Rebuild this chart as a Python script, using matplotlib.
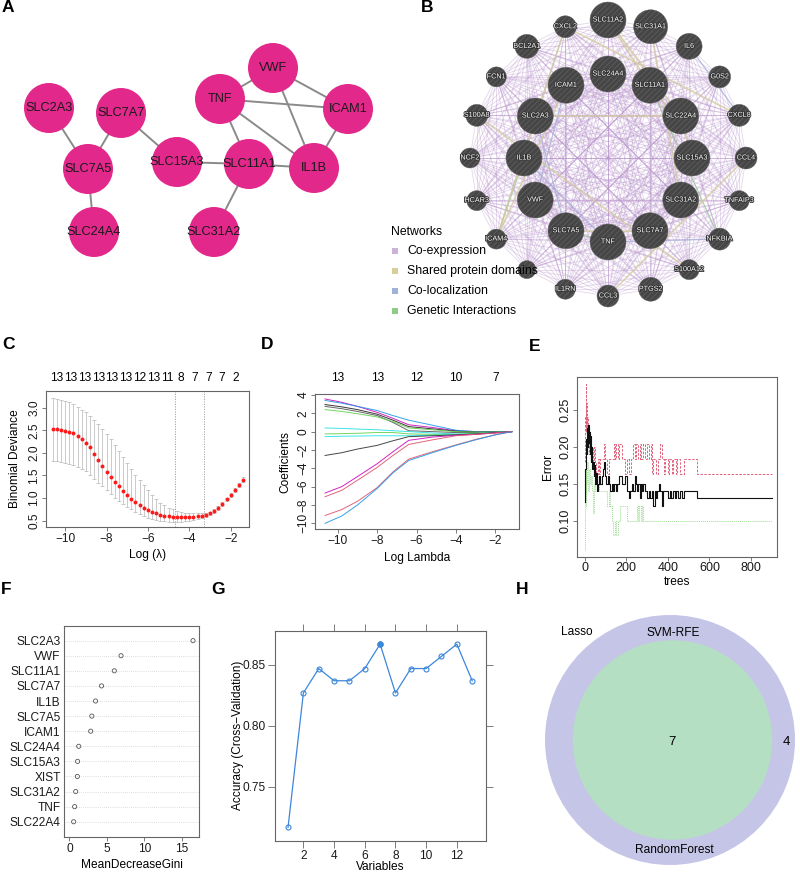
import itertools
import matplotlib
matplotlib.use('Agg')
import matplotlib.pyplot as plt
import matplotlib.patheffects as pe
from matplotlib.collections import LineCollection
from matplotlib.patches import Circle, Rectangle
import numpy as np

plt.rcParams['font.family'] = ['Liberation Sans', 'DejaVu Sans']
plt.rcParams['hatch.linewidth'] = 0.4

# ---------------- data ----------------
# A: PPI network (layout units = pixels)
a_genes = ['VWF', 'TNF', 'ICAM1', 'SLC2A3', 'SLC7A7', 'SLC7A5', 'SLC15A3',
           'SLC11A1', 'IL1B', 'SLC24A4', 'SLC31A2']
a_x = [273, 220, 348, 49, 121, 88, 177, 249, 314, 94, 214]
a_y = [68, 99, 109, 108, 113, 169, 162, 164, 168, 232, 232]
a_edges = [('SLC2A3', 'SLC7A5'), ('SLC7A7', 'SLC7A5'), ('SLC7A5', 'SLC24A4'),
           ('SLC7A7', 'SLC15A3'), ('SLC15A3', 'SLC11A1'), ('SLC11A1', 'IL1B'),
           ('SLC11A1', 'SLC31A2'), ('SLC11A1', 'TNF'), ('TNF', 'VWF'),
           ('TNF', 'ICAM1'), ('TNF', 'IL1B'), ('VWF', 'ICAM1'), ('VWF', 'IL1B'),
           ('ICAM1', 'IL1B')]

# B: GeneMANIA network (two rings)
b_outer = ['SLC11A2', 'SLC31A1', 'IL6', 'G0S2', 'CXCL8', 'CCL4', 'TNFAIP3',
           'NFKBIA', 'S100A12', 'PTGS2', 'CCL3', 'IL1RN', '', 'ICAM4', 'HCAR3',
           'NCF2', 'S100A8', 'FCN1', 'BCL2A1', 'CXCL2']
b_outer_size = [18, 17, 13, 11, 11, 11, 10, 11, 10, 12, 11, 10, 9, 10, 10,
                10, 11, 10, 12, 11]
b_inner = ['SLC24A4', 'SLC11A1', 'SLC22A4', 'SLC15A3', 'SLC31A2', 'SLC7A7',
           'TNF', 'SLC7A5', 'VWF', 'IL1B', 'SLC2A3', 'ICAM1']
b_inner_size = 18
b_shared = [('SLC11A2', 'SLC11A1'), ('SLC11A2', 'SLC22A4'), ('SLC31A1', 'SLC31A2'),
            ('SLC7A5', 'SLC7A7'), ('SLC2A3', 'SLC22A4'), ('CXCL2', 'CXCL8'),
            ('CCL3', 'CCL4'), ('ICAM1', 'ICAM4'), ('S100A8', 'S100A12'),
            ('SLC15A3', 'SLC22A4'), ('CXCL2', 'ICAM4')]
b_coloc = [('ICAM1', 'VWF'), ('IL1B', 'TNF'), ('SLC2A3', 'SLC7A5'),
           ('IL6', 'CXCL8'), ('TNF', 'NFKBIA')]
b_genetic = [('SLC7A5', 'TNF'), ('IL1B', 'ICAM4'), ('SLC11A1', 'NFKBIA')]
net_types = ['Co-expression', 'Shared protein domains', 'Co-localization',
             'Genetic Interactions']
net_colors = ['#cdb2d9', '#d6cf9a', '#9fb2da', '#8fcc88']

# C: cv.glmnet deviance
c_loglam = [-10.6, -10.4, -10.2, -10.0, -9.8, -9.6, -9.4, -9.2, -9.0, -8.8,
            -8.6, -8.4, -8.2, -8.0, -7.8, -7.6, -7.4, -7.2, -7.0, -6.8,
            -6.6, -6.4, -6.2, -6.0, -5.8, -5.6, -5.4, -5.2, -5.0, -4.8,
            -4.6, -4.4, -4.2, -4.0, -3.8, -3.6, -3.4, -3.2, -3.0, -2.8,
            -2.6, -2.4, -2.2, -2.0, -1.8, -1.6, -1.4]
c_dev = [2.53, 2.52, 2.50, 2.48, 2.46, 2.43, 2.38, 2.30, 2.22, 2.12,
         1.98, 1.84, 1.70, 1.58, 1.46, 1.36, 1.26, 1.16, 1.07, 0.99,
         0.91, 0.84, 0.78, 0.73, 0.69, 0.66, 0.63, 0.61, 0.60, 0.59,
         0.58, 0.58, 0.58, 0.58, 0.59, 0.60, 0.61, 0.63, 0.66, 0.71,
         0.78, 0.87, 0.97, 1.07, 1.18, 1.28, 1.40]
c_up = [3.22, 3.20, 3.18, 3.15, 3.12, 3.08, 3.02, 2.96, 2.90, 2.82,
        2.73, 2.63, 2.53, 2.42, 2.30, 2.18, 2.05, 1.91, 1.78, 1.65,
        1.52, 1.40, 1.28, 1.17, 1.07, 0.98, 0.90, 0.84, 0.79, 0.75,
        0.72, 0.70, 0.68, 0.67, 0.67, 0.67, 0.67, 0.68, 0.70, 0.75,
        0.82, 0.91, 1.01, 1.11, 1.22, 1.33, 1.46]
c_lo = [1.82, 1.81, 1.80, 1.78, 1.76, 1.73, 1.69, 1.65, 1.60, 1.52,
        1.43, 1.34, 1.26, 1.17, 1.09, 1.01, 0.94, 0.87, 0.81, 0.75,
        0.70, 0.65, 0.61, 0.57, 0.54, 0.52, 0.50, 0.49, 0.48, 0.48,
        0.48, 0.48, 0.49, 0.50, 0.51, 0.53, 0.55, 0.58, 0.62, 0.67,
        0.74, 0.83, 0.93, 1.03, 1.14, 1.24, 1.35]
c_top_x = [-10.40, -9.73, -9.07, -8.40, -7.74, -7.07, -6.41, -5.74, -5.08,
           -4.41, -3.75, -3.08, -2.42, -1.75]
c_top_n = [13, 13, 13, 13, 13, 13, 12, 13, 11, 8, 7, 7, 7, 2]
c_lambda_min = -4.68
c_lambda_1se = -3.29

# D: coefficient paths
d_loglam = [-10.65, -9.8, -9.0, -8.0, -7.2, -6.4, -5.2, -4.0, -3.0, -2.0, -1.16]
d_coefs = [
    [3.56, 3.2, 2.75, 2.1, 1.45, 0.75, 0.45, 0.1, 0.0, 0.0, 0.0],
    [3.4, 3.1, 2.75, 2.3, 1.75, 1.25, 0.7, 0.15, 0.0, 0.0, 0.0],
    [2.95, 2.7, 2.4, 1.9, 1.25, 0.55, 0.3, 0.05, -0.05, -0.05, 0.0],
    [2.75, 2.5, 2.2, 1.75, 1.0, 0.1, 0.0, -0.1, -0.1, -0.05, 0.0],
    [2.4, 2.2, 1.95, 1.6, 1.1, 0.4, 0.2, 0.0, -0.05, -0.05, 0.0],
    [0.4, 0.35, 0.28, 0.2, 0.1, 0.0, -0.15, -0.25, -0.2, -0.1, 0.0],
    [-0.25, -0.22, -0.18, -0.1, -0.1, -0.25, -0.3, -0.3, -0.2, -0.1, 0.0],
    [-0.55, -0.5, -0.48, -0.45, -0.45, -0.45, -0.4, -0.35, -0.25, -0.1, 0.0],
    [-2.6, -2.3, -1.9, -1.5, -1.0, -0.55, -0.45, -0.35, -0.25, -0.1, 0.0],
    [-6.7, -6.0, -4.9, -3.5, -2.2, -0.95, -0.6, -0.4, -0.3, -0.15, 0.0],
    [-7.1, -6.4, -5.3, -3.9, -2.6, -1.4, -0.9, -0.45, -0.3, -0.15, 0.0],
    [-9.15, -8.5, -7.6, -6.1, -4.4, -3.0, -2.2, -1.45, -0.85, -0.35, 0.0],
    [-10.0, -9.2, -8.0, -6.2, -4.5, -3.15, -2.3, -1.5, -0.9, -0.35, 0.0],
]
d_colors = ['#CD0BBC', '#2297E6', '#222222', '#555555', '#61D04F', '#28E2E5',
            '#61D04F', '#28E2E5', '#333333', '#CD0BBC', '#DF536B', '#DF536B',
            '#2297E6']
d_top_at = [-10, -8, -6, -4, -2]
d_top_df = [13, 13, 12, 10, 7]

# E: random forest error (step breakpoints: tree, error)
e_oob = [(1, 0.125), (3, 0.17), (5, 0.19), (7, 0.175), (9, 0.21), (11, 0.19),
         (13, 0.225), (15, 0.2), (17, 0.23), (19, 0.205), (21, 0.22), (24, 0.19),
         (27, 0.215), (30, 0.18), (33, 0.2), (36, 0.17), (40, 0.18), (44, 0.16),
         (48, 0.175), (52, 0.15), (56, 0.165), (60, 0.14), (64, 0.15), (70, 0.16),
         (76, 0.15), (82, 0.16), (88, 0.17), (94, 0.18), (98, 0.16), (104, 0.15),
         (112, 0.16), (118, 0.15), (124, 0.14), (130, 0.15), (136, 0.14),
         (142, 0.15), (150, 0.14), (158, 0.15), (166, 0.16), (182, 0.15),
         (196, 0.16), (204, 0.14), (212, 0.13), (218, 0.14), (226, 0.15),
         (232, 0.14), (240, 0.16), (246, 0.15), (252, 0.14), (258, 0.15),
         (264, 0.13), (270, 0.15), (276, 0.14), (282, 0.15), (290, 0.14),
         (300, 0.13), (308, 0.14), (314, 0.13), (322, 0.14), (330, 0.12),
         (336, 0.14), (342, 0.13), (350, 0.14), (356, 0.15), (364, 0.14),
         (372, 0.12), (378, 0.14), (400, 0.13), (408, 0.14), (416, 0.13),
         (424, 0.14), (432, 0.13), (440, 0.14), (448, 0.13), (458, 0.14),
         (470, 0.13), (478, 0.14), (540, 0.131), (900, 0.131)]
e_cls1 = [(1, 0.18), (3, 0.24), (5, 0.285), (7, 0.22), (9, 0.26), (11, 0.2),
          (13, 0.24), (15, 0.2), (18, 0.22), (21, 0.19), (25, 0.21), (30, 0.18),
          (35, 0.2), (40, 0.17), (45, 0.2), (50, 0.18), (56, 0.163), (64, 0.183),
          (70, 0.163), (76, 0.183), (95, 0.204), (100, 0.183), (108, 0.163),
          (116, 0.183), (140, 0.204), (148, 0.183), (152, 0.204), (160, 0.183),
          (166, 0.204), (178, 0.183), (194, 0.163), (204, 0.183), (212, 0.163),
          (224, 0.183), (232, 0.204), (240, 0.183), (248, 0.204), (256, 0.183),
          (264, 0.204), (272, 0.183), (280, 0.204), (290, 0.183), (300, 0.204),
          (308, 0.183), (318, 0.204), (324, 0.163), (330, 0.183), (345, 0.163),
          (352, 0.183), (362, 0.204), (372, 0.183), (380, 0.163), (388, 0.183),
          (400, 0.163), (406, 0.183), (420, 0.163), (426, 0.183), (440, 0.163),
          (446, 0.183), (460, 0.163), (478, 0.183), (540, 0.163), (900, 0.163)]
e_cls2 = [(1, 0.06), (3, 0.17), (5, 0.12), (7, 0.2), (9, 0.15), (12, 0.18),
          (15, 0.14), (20, 0.17), (25, 0.15), (30, 0.16), (35, 0.14), (40, 0.11),
          (46, 0.15), (52, 0.14), (58, 0.15), (70, 0.14), (100, 0.14), (106, 0.12),
          (116, 0.14), (122, 0.12), (130, 0.10), (138, 0.08), (146, 0.10),
          (152, 0.08), (160, 0.10), (168, 0.12), (205, 0.10), (250, 0.12),
          (256, 0.10), (262, 0.12), (270, 0.10), (276, 0.12), (282, 0.10),
          (900, 0.10)]

# F: MeanDecreaseGini
f_genes = ['SLC2A3', 'VWF', 'SLC11A1', 'SLC7A7', 'IL1B', 'SLC7A5', 'ICAM1',
           'SLC24A4', 'SLC15A3', 'XIST', 'SLC31A2', 'TNF', 'SLC22A4']
f_gini = [16.5, 6.9, 6.0, 4.3, 3.5, 3.0, 2.85, 1.25, 1.1, 1.07, 0.85, 0.71, 0.58]

# G: SVM-RFE accuracy
g_vars = [1, 2, 3, 4, 5, 6, 7, 8, 9, 10, 11, 12, 13]
g_acc = [0.717, 0.827, 0.847, 0.837, 0.837, 0.847, 0.867, 0.827, 0.847,
         0.847, 0.857, 0.867, 0.837]
g_best = 7

# H: Venn counts
h_lasso_only = 4
h_common = 7

# ---------------- figure ----------------
W, H = 800, 872
fig = plt.figure(figsize=(8, 8.72), dpi=100)


def px_axes(l, t, r, b):
    return fig.add_axes([l / W, 1 - b / H, (r - l) / W, (b - t) / H])


def r_style(ax, fs=8.6):
    for s in ax.spines.values():
        s.set_color('#666666')
        s.set_linewidth(0.8)
    ax.tick_params(direction='out', length=3, width=0.6, color='#666666',
                   labelsize=fs, pad=1, labelcolor='#1a1a1a')


canvas = px_axes(0, 0, W, H)
canvas.set_xlim(0, W)
canvas.set_ylim(H, 0)
canvas.axis('off')

for lab, x, y in [('A', 2, 0), ('B', 421, 0), ('C', 2, 337), ('D', 261, 337),
                  ('E', 529, 339), ('F', 1, 582), ('G', 211, 582), ('H', 516, 582)]:
    canvas.text(x, y, lab, fontsize=12.5, fontweight='bold', va='top', ha='left')

# ---- A
pos = {g: (x, y) for g, x, y in zip(a_genes, a_x, a_y)}
for g1, g2 in a_edges:
    canvas.plot([pos[g1][0], pos[g2][0]], [pos[g1][1], pos[g2][1]],
                color='#8a8a8a', lw=1.4, zorder=1)
for g in a_genes:
    canvas.add_patch(Circle(pos[g], 25, facecolor='#e2288b', edgecolor='none', zorder=2))
    canvas.text(pos[g][0], pos[g][1], g, fontsize=9.2, ha='center', va='center',
                color='#1a1a1a', zorder=3)

# ---- B
cx, cy = 608, 158
bpos = {}
bsize = {}
for i, g in enumerate(b_outer):
    ang = np.deg2rad(90 - i * 360 / len(b_outer))
    bpos[g] = (cx + 138 * np.cos(ang), cy - 138 * np.sin(ang))
    bsize[g] = b_outer_size[i]
for i, g in enumerate(b_inner):
    ang = np.deg2rad(90 - i * 360 / len(b_inner))
    bpos[g] = (cx + 84 * np.cos(ang), cy - 84 * np.sin(ang))
    bsize[g] = b_inner_size

allnodes = list(bpos.keys())
segs = [[bpos[a], bpos[b]] for a, b in itertools.combinations(allnodes, 2)]
canvas.add_collection(LineCollection(segs, colors='#b893cc', linewidths=0.6,
                                     alpha=0.38, zorder=1))
for edges, col, lw in [(b_coloc, net_colors[2], 0.9), (b_genetic, net_colors[3], 0.9),
                       (b_shared, '#d6cf9a', 1.3)]:
    canvas.add_collection(LineCollection([[bpos[a], bpos[b]] for a, b in edges],
                                         colors=col, linewidths=lw, alpha=0.65, zorder=1.5))
for g in allnodes:
    canvas.add_patch(Circle(bpos[g], bsize[g], facecolor='#464646', edgecolor='#686868',
                            hatch='//////', lw=0.3, zorder=3))
    if g:
        canvas.text(bpos[g][0], bpos[g][1], g, fontsize=5.2, color='white',
                    ha='center', va='center', zorder=4,
                    path_effects=[pe.withStroke(linewidth=1.2, foreground='#303030')])

canvas.text(391, 232, 'Networks', fontsize=8.8, va='center', ha='left', zorder=6)
for i, (t, col) in enumerate(zip(net_types, net_colors)):
    y = 251 + 20 * i
    canvas.add_patch(Rectangle((392, y - 3), 6, 6, facecolor=col, edgecolor='none', zorder=6))
    canvas.text(407, y, t, fontsize=8.8, va='center', ha='left', zorder=6)

# ---- C
axC = px_axes(45.7, 391, 249.3, 527)
c_dev_a = np.array(c_dev)
axC.errorbar(c_loglam, c_dev, yerr=[c_dev_a - np.array(c_lo), np.array(c_up) - c_dev_a],
             fmt='none', ecolor='#b5b5b5', elinewidth=0.5, capsize=1.2, capthick=0.5)
axC.scatter(c_loglam, c_dev, s=8, color='#ff1a1a', zorder=3, linewidths=0)
axC.axvline(c_lambda_min, ls=(0, (1.5, 1.5)), color='#999999', lw=0.6)
axC.axvline(c_lambda_1se, ls=(0, (1.5, 1.5)), color='#999999', lw=0.6)
axC.set_xlim(-10.94, -1.10)
axC.set_ylim(0.36, 3.37)
axC.set_xticks([-10, -8, -6, -4, -2])
axC.set_yticks([0.5, 1.0, 1.5, 2.0, 2.5, 3.0])
axC.set_yticklabels(['0.5', '1.0', '1.5', '2.0', '2.5', '3.0'], rotation=90, va='center')
r_style(axC)
for x, n in zip(c_top_x, c_top_n):
    axC.text(x, 1 + 12.7 / 136, str(n), transform=axC.get_xaxis_transform(),
             ha='center', va='center', fontsize=8.6)
axC.text(0.5, -28 / 136, 'Log (λ)', transform=axC.transAxes, ha='center',
         va='center', fontsize=8.6)
axC.text(-30.7 / 203.6, 0.5, 'Binomial Deviance', transform=axC.transAxes,
         ha='center', va='center', rotation=90, fontsize=8.6)

# ---- D
axD = px_axes(315, 394.3, 519.3, 529)
for coefs, col in zip(d_coefs, d_colors):
    axD.plot(d_loglam, coefs, color=col, lw=0.7, alpha=0.9)
axD.set_xlim(-11.16, -0.78)
axD.set_ylim(-10.62, 4.07)
axD.set_xticks([-10, -8, -6, -4, -2])
axD.set_yticks([4, 2, 0, -2, -4, -6, -8, -10])
axD.set_yticklabels(['4', '2', '0', '−2', '−4', '−6', '−8', '−10'], rotation=90, va='center')
r_style(axD)
for x, n in zip(d_top_at, d_top_df):
    axD.text(x, 1 + 16 / 134.7, str(n), transform=axD.get_xaxis_transform(),
             ha='center', va='center', fontsize=8.6)
axD.text(0.5, -29.3 / 134.7, 'Log Lambda', transform=axD.transAxes, ha='center',
         va='center', fontsize=8.6)
axD.text(-30 / 204.3, 0.5, 'Coefficients', transform=axD.transAxes,
         ha='center', va='center', rotation=90, fontsize=8.6)

# ---- E
axE = px_axes(576.7, 376.7, 776.7, 556.7)
for pts, col, ls, lw in [(e_cls2, '#9edc92', (0, (1, 1)), 0.7),
                         (e_cls1, '#e0607a', (0, (2.5, 1.5)), 0.7),
                         (e_oob, '#111111', '-', 0.8)]:
    t, v = zip(*pts)
    axE.step(t, v, where='post', color=col, ls=ls, lw=lw)
axE.set_xlim(-38, 923)
axE.set_ylim(0.051, 0.295)
axE.set_xticks([0, 200, 400, 600, 800])
axE.set_yticks([0.10, 0.15, 0.20, 0.25])
axE.set_yticklabels(['0.10', '0.15', '0.20', '0.25'], rotation=90, va='center')
r_style(axE, fs=9)
axE.text(0.5, -25 / 180, 'trees', transform=axE.transAxes, ha='center',
         va='center', fontsize=8.6)
axE.text(-29 / 200, 0.5, 'Error', transform=axE.transAxes, ha='center',
         va='center', rotation=90, fontsize=8.6)

# ---- F
axF = px_axes(64.3, 626, 199, 837.3)
f_rows = list(range(len(f_genes), 0, -1))
for r in f_rows:
    axF.axhline(r, color='#d0d0d0', lw=0.6, ls=(0, (1, 1.5)), zorder=1)
axF.scatter(f_gini, f_rows, s=9, facecolors='none', edgecolors='#555555',
            linewidths=0.6, zorder=3)
axF.set_xlim(-0.67, 17.3)
axF.set_ylim(-0.03, 13.97)
axF.set_xticks([0, 5, 10, 15])
axF.set_yticks(f_rows)
axF.set_yticklabels(f_genes)
r_style(axF)
axF.tick_params(axis='y', length=0, pad=2.5)
axF.text(0.5, -27.7 / 211.3, 'MeanDecreaseGini', transform=axF.transAxes,
         ha='center', va='center', fontsize=8.6)

# ---- G
axG = px_axes(275, 630.7, 486, 840.7)
axG.plot(g_vars, g_acc, color='#3c86db', lw=0.9, marker='o', ms=3.6,
         mfc='none', mec='#3c86db', mew=0.8)
axG.plot([g_vars[g_best - 1]], [g_acc[g_best - 1]], 'o', color='#3c86db', ms=3.6)
axG.set_xlim(0.15, 13.9)
axG.set_ylim(0.706, 0.878)
axG.set_xticks([2, 4, 6, 8, 10, 12])
axG.set_yticks([0.75, 0.80, 0.85])
axG.set_yticklabels(['0.75', '0.80', '0.85'])
r_style(axG)
axG.tick_params(length=5, top=True, right=True, pad=1.5)
axG.text(0.5, -26 / 210, 'Variables', transform=axG.transAxes, ha='center',
         va='center', fontsize=8.6)
axG.text(-37.3 / 211, 0.5, 'Accuracy (Cross\u2212Validation)', transform=axG.transAxes,
         ha='center', va='center', rotation=90, fontsize=8.6)

# ---- H
R_out = 125
hc = (670, 740)
canvas.add_patch(Circle(hc, R_out, facecolor='#c5c5e7', edgecolor='none', zorder=1))
r_in = R_out * np.sqrt(h_common / (h_common + h_lasso_only))
canvas.add_patch(Circle((hc[0] + 2.5, hc[1]), r_in, facecolor='#b5dfc3',
                        edgecolor='none', zorder=2))
canvas.text(577, 632, 'Lasso', fontsize=8.6, ha='center', va='center', zorder=3)
canvas.text(673, 633, 'SVM-RFE', fontsize=8.6, ha='center', va='center', zorder=3)
canvas.text(674, 850, 'RandomForest', fontsize=8.6, ha='center', va='center', zorder=3)
canvas.text(672, 742, str(h_common), fontsize=9.5, ha='center', va='center', zorder=3)
canvas.text(786, 742, str(h_lasso_only), fontsize=9.5, ha='center', va='center', zorder=3)

fig.savefig('out.png', dpi=100)
